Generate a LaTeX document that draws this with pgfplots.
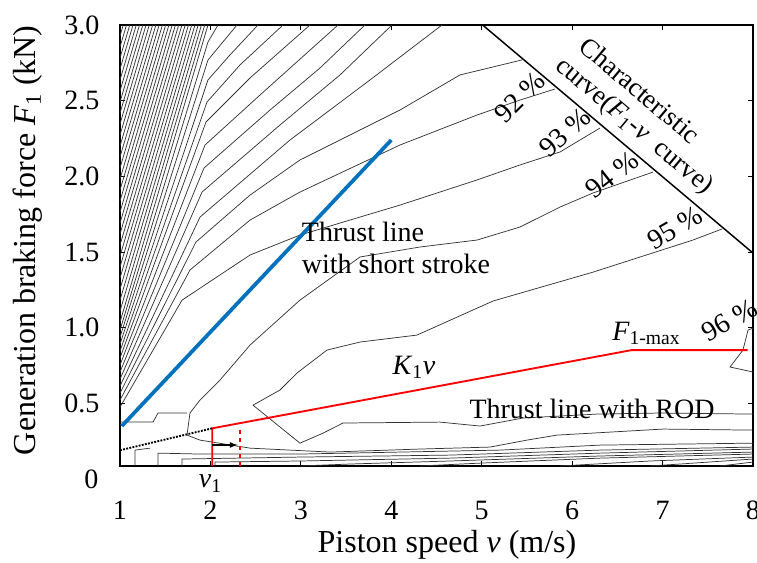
\documentclass[border=0pt]{standalone}
\usepackage{fontspec}
\setmainfont{Liberation Serif}
\usepackage{pgfplots}
\pgfplotsset{compat=1.18}
\begin{document}
\begin{tikzpicture}[ct/.style={black!80, line width=0.55pt}, lbl/.style={font=\fontsize{21}{24}\selectfont}]
\path[use as bounding box] (-90pt,-72.75pt) rectangle (477.75pt,349.5pt);
\begin{axis}[
  scale only axis, width=474.75pt, height=330.75pt,
  at={(0,0)}, anchor=south west,
  xmin=1, xmax=8, ymin=0.086, ymax=3.0,
  xtick={1,2,...,8}, ytick={0.5,1.0,1.5,2.0,2.5,3.0},
  yticklabel style={/pgf/number format/fixed, /pgf/number format/fixed zerofill, /pgf/number format/precision=1, xshift=-12pt},
  xticklabel style={yshift=-23pt},
  /pgf/number format/assume math mode=true,
  tick label style={font=\fontsize{21}{24}\selectfont},
  tick style={black, line width=0.6pt}, major tick length=4pt,
  axis line style={black, line width=1pt},
  every axis x label/.style={at={(axis description cs:0.5166,0)}, anchor=center, yshift=-59.25pt, font=\fontsize{24}{28}\selectfont},
  every axis y label/.style={at={(axis description cs:-0.1453,0.512)}, anchor=center, rotate=90, font=\fontsize{24}{28}\selectfont},
  xlabel={Piston speed \textit{v} (m/s)},
  ylabel={Generation braking force \textit{F}\textsubscript{1} (kN)},
  clip=false,
]
% dense contour lines (low speed side)
\addplot[ct] coordinates {(1,2.927) (1.036,3)};
\addplot[ct] coordinates {(1,2.855) (1.072,3)};
\addplot[ct] coordinates {(1,2.782) (1.108,3)};
\addplot[ct] coordinates {(1,2.709) (1.144,3)};
\addplot[ct] coordinates {(1,2.637) (1.180,3)};
\addplot[ct] coordinates {(1,2.564) (1.216,3)};
\addplot[ct] coordinates {(1,2.491) (1.252,3)};
\addplot[ct] coordinates {(1,2.418) (1.288,3)};
\addplot[ct] coordinates {(1,2.346) (1.324,3)};
\addplot[ct] coordinates {(1,2.273) (1.361,3)};
\addplot[ct] coordinates {(1,2.200) (1.397,3)};
\addplot[ct] coordinates {(1,2.128) (1.433,3)};
\addplot[ct] coordinates {(1,2.055) (1.469,3)};
\addplot[ct] coordinates {(1,1.982) (1.505,3)};
\addplot[ct] coordinates {(1,1.909) (1.541,3)};
\addplot[ct] coordinates {(1,1.837) (1.577,3)};
\addplot[ct] coordinates {(1,1.764) (1.613,3)};
\addplot[ct] coordinates {(1,1.691) (1.649,3)};
\addplot[ct] coordinates {(1,1.619) (1.685,3)};
\addplot[ct] coordinates {(1,1.546) (1.721,3)};
\addplot[ct] coordinates {(1,1.473) (1.757,3)};
\addplot[ct] coordinates {(1,1.401) (1.793,3)};
\addplot[ct] coordinates {(1,1.328) (1.829,3)};
\addplot[ct] coordinates {(1,1.255) (1.865,3)};
\addplot[ct] coordinates {(1,1.182) (1.901,3)};
\addplot[ct] coordinates {(1,1.110) (1.937,3)};
\addplot[ct] coordinates {(1,1.037) (1.973,3)};
% fan of contour lines
\addplot[ct] coordinates {(1,0.984) (1.973,2.888) (2.084,3)};
\addplot[ct] coordinates {(1,0.938) (1.973,2.769) (2.294,3)};
\addplot[ct] coordinates {(1,0.892) (1.973,2.637) (2.216,2.802) (2.526,3)};
\addplot[ct] coordinates {(1,0.845) (1.962,2.491) (2.327,2.736) (2.803,3)};
\addplot[ct] coordinates {(1,0.799) (1.951,2.359) (2.438,2.650) (3.101,3)};
\addplot[ct] coordinates {(1,0.753) (1.940,2.207) (2.548,2.537) (3.411,3)};
\addplot[ct] coordinates {(1,0.707) (1.929,2.055) (2.659,2.438) (3.212,2.716) (3.709,3)};
\addplot[ct] coordinates {(1,0.660) (1.907,1.896) (2.769,2.339) (3.433,2.670) (4.008,3)};
\addplot[ct] coordinates {(1,0.614) (1.885,1.731) (2.880,2.240) (3.765,2.637) (4.561,3)};
\addplot[ct] coordinates {(1,0.568) (1.840,1.566) (2.438,1.876) (2.990,2.108) (4.096,2.438) (4.760,2.670) (5.445,2.769)};
\addplot[ct] coordinates {(1,0.522) (1.774,1.381) (2.438,1.711) (2.990,1.896) (4.096,2.207) (4.948,2.405) (5.423,2.504) (5.810,2.577)};
\addplot[ct] coordinates {(1,0.475) (1.686,1.182) (2.438,1.480) (2.990,1.612) (4.096,1.810) (4.948,1.976) (5.423,2.075) (5.866,2.161) (6.308,2.319)};
% 94 % contour
\addplot[ct] coordinates {(8,0.323) (7.005,0.330) (5.832,0.290) (5.501,0.257) (5.092,0.211) (4.317,0.198) (3.322,0.178) (2.438,0.204) (1.885,0.257) (1.741,0.290) (1.774,0.436) (1.885,0.522) (2.106,0.654) (2.438,0.885) (2.990,1.182) (3.654,1.467) (4.317,1.533) (4.948,1.579) (5.423,1.665) (5.866,1.797) (6.231,1.890) (6.894,2.028)};
\addplot[ct] coordinates {(1,0.376) (1.365,0.376) (1.420,0.436) (1.741,0.436)};
% 95 % contour
\addplot[ct] coordinates {(8,0.429) (6.971,0.436) (6.275,0.429) (5.456,0.403) (4.981,0.350) (4.539,0.376) (3.466,0.370) (3.245,0.303) (2.990,0.237) (2.471,0.488) (2.769,0.588) (2.957,0.700) (3.289,0.852) (3.654,0.905) (4.284,0.951) (5.125,1.176) (6.231,1.367) (7.336,1.579) (7.657,1.652)};
% lower contour lines
\addplot[ct] coordinates {(8,0.237) (6.308,0.224) (5.202,0.191) (4.096,0.178) (2.990,0.165) (1.885,0.165) (1.420,0.171) (1.420,0.086)};
\addplot[ct] coordinates {(8,0.211) (6.308,0.191) (4.649,0.158) (2.990,0.145) (1.686,0.132) (1.686,0.086)};
\addplot[ct] coordinates {(8,0.198) (6.308,0.171) (4.649,0.138) (2.990,0.119) (2.051,0.112) (2.051,0.086)};
\addplot[ct] coordinates {(8,0.178) (6.308,0.152) (4.649,0.119) (3.543,0.099) (2.990,0.086)};
\addplot[ct] coordinates {(8,0.165) (6.308,0.138) (4.981,0.105) (4.317,0.086)};
\addplot[ct] coordinates {(8,0.145) (6.861,0.119) (5.866,0.086)};
\addplot[ct] coordinates {(8,0.132) (7.193,0.099) (6.861,0.086)};
\addplot[ct] coordinates {(8,0.112) (7.635,0.086)};
\addplot[ct] coordinates {(1.166,0.086) (1.166,0.191) (1.332,0.204)};
% 96 % loop
\addplot[ct] coordinates {(8,0.997) (7.945,0.984) (7.889,0.852) (7.746,0.740) (8,0.707)};
% characteristic curve
\addplot[black, line width=1.1pt] coordinates {(5.01,3.0) (8,1.493)};
% thrust line with short stroke
\addplot[color={rgb,255:red,0;green,114;blue,189}, line width=2.8pt] coordinates {(1.02,0.35) (4.0,2.24)};
% thrust line with ROD
\addplot[red, line width=1.4pt] coordinates {(2.02,0.086) (2.02,0.335) (6.66,0.852) (7.94,0.852)};
\addplot[red, line width=1.4pt, dashed] coordinates {(2.33,0.086) (2.33,0.345)};
\addplot[black, line width=1.4pt, densely dotted] coordinates {(1.0,0.19) (2.02,0.335)};
\addplot[black, line width=1pt, -latex] coordinates {(2.02,0.225) (2.3,0.225)};
% texts
\node[lbl, anchor=east, inner sep=0pt, xshift=-16pt] at (axis cs:1,0) {0};
\node[lbl] at (axis cs:2.0,-0.03) {\textit{v}\textsubscript{1}};
\node[lbl, align=left, anchor=west] at (axis cs:2.96,1.53) {Thrust line\\with short stroke};
\node[lbl] at (axis cs:4.25,0.74) {\textit{K}\textsubscript{1}\textit{v}};
\node[lbl] at (axis cs:6.22,0.46) {Thrust line with ROD};
\node[lbl] at (axis cs:6.82,0.96) {\textit{F}\textsubscript{1-max}};
\node[lbl, rotate=30] at (axis cs:7.74,1.05) {96 \%};
\node[lbl, rotate=30] at (axis cs:7.14,1.66) {95 \%};
\node[lbl, rotate=38] at (axis cs:6.44,2.01) {94 \%};
\node[lbl, rotate=42] at (axis cs:5.92,2.29) {93 \%};
\node[lbl, rotate=45] at (axis cs:5.42,2.52) {92 \%};
\node[font=\fontsize{20}{22}\selectfont, rotate=-40] at (axis cs:6.75,2.57) {Characteristic};
\node[font=\fontsize{20}{22}\selectfont, rotate=-40] at (axis cs:6.68,2.33) {curve(\textit{F}\textsubscript{1}-\textit{v}\ \ curve)};
\end{axis}
\end{tikzpicture}
\end{document}
